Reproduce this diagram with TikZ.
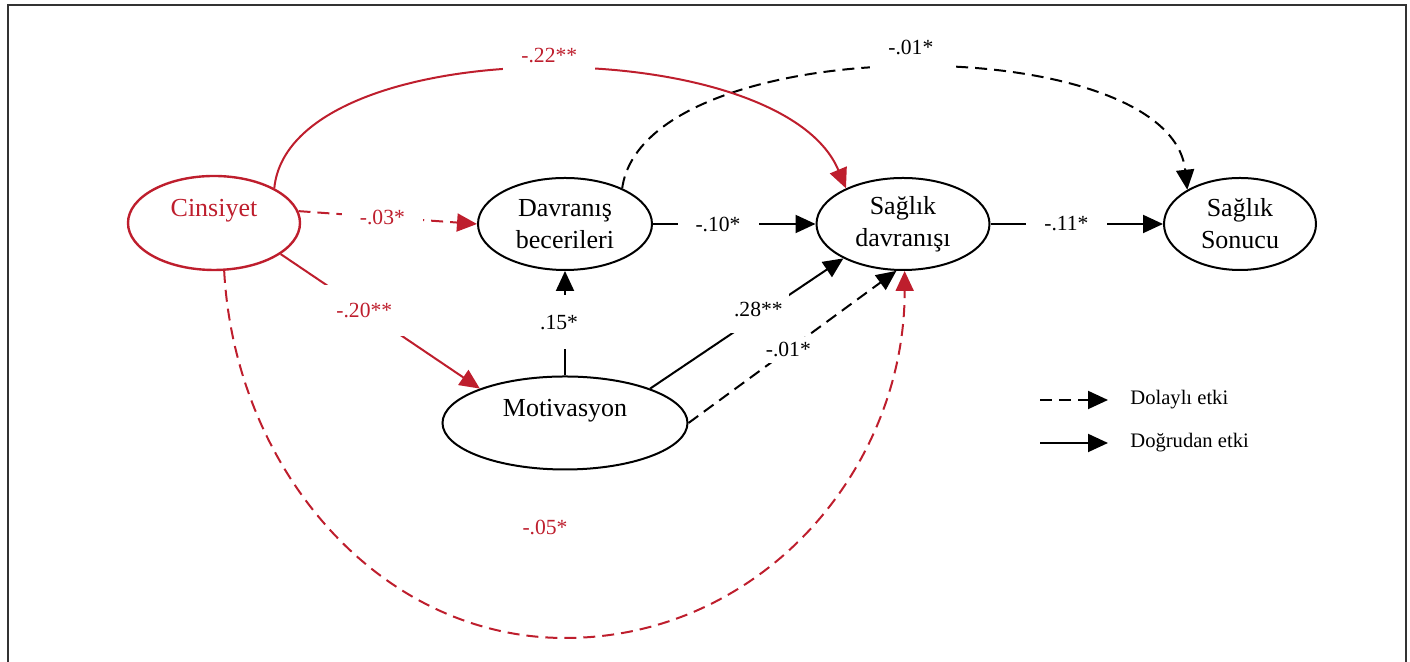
\documentclass[tikz,border=0pt]{standalone}
\usepackage{fontspec}
\setmainfont{Liberation Serif}
\usetikzlibrary{arrows.meta,shapes.geometric}
\definecolor{pathred}{RGB}{190,30,45}
\tikzset{
  var/.style={draw, ellipse, line width=1pt, inner sep=0pt, align=center,
    font=\fontsize{13}{16}\selectfont},
  varhigh/.style={var, text height=9pt, text depth=15pt},
  coef/.style={fill=white, font=\fontsize{10.8}{12}\selectfont, inner xsep=9pt, inner ysep=3pt},
  coefup/.style={coef, text height=8pt, text depth=#1},
  eff/.style={line width=1pt, -{Triangle[length=10pt,width=9pt]}},
  ind/.style={eff, dash pattern=on 6pt off 3.5pt},
  legtext/.style={font=\fontsize{10.3}{12}\selectfont, inner sep=0pt, anchor=west},
}
\begin{document}
\begin{tikzpicture}[x=0.5pt,y=0.5pt]
    \useasboundingbox (0,0) rectangle (1410,662);
    \draw[line width=1pt, black!80] (8,-20) -- (8,657) -- (1406,657) -- (1406,-20);

    % variables
    \node[varhigh, draw=pathred, text=pathred, line width=1.2pt, minimum width=86pt, minimum height=47pt] (cins) at (214,439) {Cinsiyet};
    \node[var, minimum width=87pt, minimum height=46pt] (dav) at (565,438) {Davranış\\becerileri};
    \node[var, minimum width=86.5pt, minimum height=46pt] (sd) at (903,438) {Sağlık\\davranışı};
    \node[var, minimum width=76pt, minimum height=46pt] (son) at (1240,438) {Sağlık\\Sonucu};
    \node[varhigh, minimum width=122.5pt, minimum height=46.5pt] (mot) at (565,239) {Motivasyon};

    % black paths
    \draw[eff] (dav) -- node[coef, pos=.4] (c10) {-.10*} (sd);
    \draw[eff] (sd) -- node[coef, pos=.44] (c11) {-.11*} (son);
    \draw[eff] (mot) -- node[coef, pos=.51, inner ysep=10pt, xshift=-3pt] (c15) {.15*} (dav);
    \draw[eff] (mot.22) -- node[coef, pos=.56, inner xsep=3pt, inner ysep=8pt, yshift=3pt] (c28) {.28**} (sd.210);
    \draw[ind] (mot.east) -- node[coef, pos=.48, inner xsep=5pt] (c01b) {-.01*} (sd.262);
    \draw[ind] (dav.32) .. controls (645,634) and (1170,634) .. node[coefup=22pt, pos=.5, xshift=2pt] (c01a) {-.01*} (son.147);

    % red paths
    \draw[ind, pathred] (cins.8) -- node[coef, text=pathred, pos=.47] (c03) {-.03*} (dav.west);
    \draw[eff, pathred] (cins.-25) -- node[coef, text=pathred, pos=.45, inner xsep=8pt, inner ysep=9pt, xshift=-3pt, yshift=2pt] (c20) {-.20**} (mot.158);
    \draw[eff, pathred] (cins.30) .. controls (290,632) and (780,632) .. node[coefup=15pt, text=pathred, pos=.5, xshift=4pt] (c22) {-.22**} (sd.148);
    \coordinate (low) at (565,24);
    \draw[ind, pathred] (cins.-78) .. controls (235,192) and (380,24) .. (low) .. controls (760,24) and (905,192) .. (sd.-88);
    \node[coef, text=pathred] (c05) at (545,135) {-.05*};

    % legend
    \coordinate (lgdind) at (1040,262);
    \coordinate (lgddir) at (1040,219);
    \node[legtext] (lind) at (1130,262) {Dolaylı etki};
    \node[legtext] (ldir) at (1130,219) {Doğrudan etki};
    \draw[ind] (lgdind) -- ([xshift=-11pt]lind.west);
    \draw[eff] (lgddir) -- ([xshift=-11pt]ldir.west);
\end{tikzpicture}
\end{document}
